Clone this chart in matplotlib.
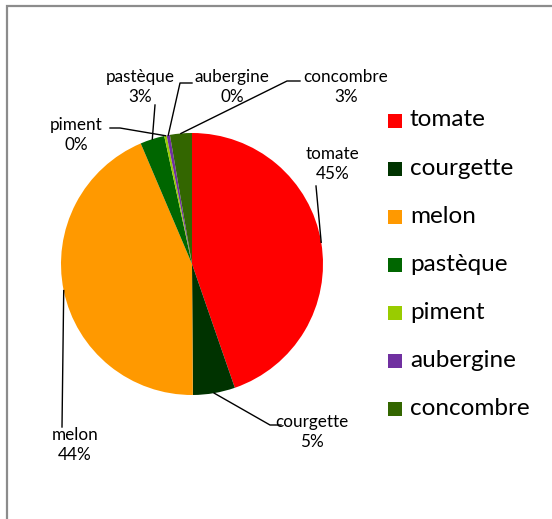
import matplotlib.pyplot as plt
from matplotlib.patches import Rectangle
import numpy as np

categories = ['tomate', 'courgette', 'melon', 'pastèque', 'piment', 'aubergine', 'concombre']
values = [44.7, 5.2, 43.7, 3.0, 0.3, 0.4, 2.7]
colors = ['#FF0000', '#003300', '#FF9900', '#006600', '#99CC00', '#7030A0', '#336600']

# label block centres and leader elbows, in pixels (y down)
label_pos = [(333, 164), (312, 432), (75, 445), (140, 87), (76, 135), (232, 87), (346, 87)]
elbows = [[(316, 186)],
          [(270, 425), (281, 425)],
          [(62, 427)],
          [(155, 105)],
          [(120, 128), (110, 128)],
          [(180, 83), (192, 83)],
          [(287, 81), (300, 81)]]

W, H = 552, 519
plt.rcParams['font.family'] = ['Lato', 'DejaVu Sans']

fig = plt.figure(figsize=(W / 100, H / 100), dpi=100)
ax = fig.add_axes([0, 0, 1, 1])


def P(x, y):
    return x, H - y


cx, cy, r = 192, 264, 131
wedges, _ = ax.pie(values, colors=colors, startangle=90, counterclock=False,
                   center=P(cx, cy), radius=r, frame=True,
                   wedgeprops=dict(linewidth=0))
ax.set_xlim(0, W)
ax.set_ylim(0, H)
ax.set_aspect('equal')
ax.axis('off')

# border
ax.add_patch(Rectangle(P(7, 560), 600, 554, fill=False, edgecolor='#8c8c8c', linewidth=1.6))

total = sum(values)
for i, w in enumerate(wedges):
    mid = np.deg2rad((w.theta1 + w.theta2) / 2)
    ax_x = cx + r * np.cos(mid)
    ax_y = H - cy + r * np.sin(mid)
    pts = [(ax_x, ax_y)] + [P(*e) for e in elbows[i]]
    xs, ys = zip(*pts)
    ax.plot(xs, ys, color='black', linewidth=1)
    lx, ly = label_pos[i]
    pct = round(values[i] / total * 100)
    ax.text(*P(lx, ly), f'{categories[i]}\n{pct}%', ha='center', va='center',
            fontsize=12.3, linespacing=1.25)

# legend
for i, name in enumerate(categories):
    y = 120 + i * 48.1
    ax.add_patch(Rectangle(P(388, y + 7.5), 14, 14, facecolor=colors[i], edgecolor='none'))
    ax.text(*P(410, y), name, ha='left', va='center', fontsize=17.5)

fig.savefig('out.png', dpi=100)
